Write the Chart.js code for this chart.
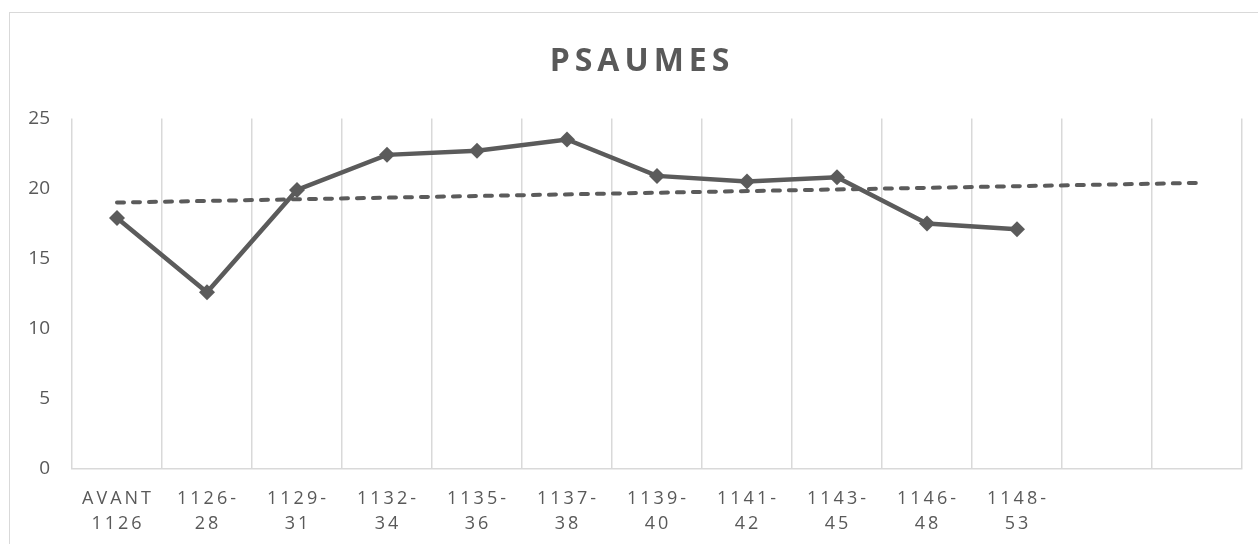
<!DOCTYPE html>
<html>
<head>
<meta charset="utf-8">
<script src="https://cdn.jsdelivr.net/npm/chart.js@4/dist/chart.umd.min.js"></script>
<style>
  html, body { margin: 0; padding: 0; background: #fff; overflow: hidden; }
  #frame { position: absolute; left: 9px; top: 12px; width: 1270px; height: 560px; border: 1px solid #d9d9d9; }
  #wrap { position: absolute; left: 0; top: 0; width: 1258px; height: 544px; }
</style>
</head>
<body>
<div id="frame"></div>
<div id="wrap"><canvas id="chart"></canvas></div>
<script>
// categories (two empty slots at the end, like the original sheet)
const tickLabels = [
  ['AVANT', '1126'], ['1126-', '28'], ['1129-', '31'], ['1132-', '34'],
  ['1135-', '36'], ['1137-', '38'], ['1139-', '40'], ['1141-', '42'],
  ['1143-', '45'], ['1146-', '48'], ['1148-', '53'], [''], ['']
];
const psaumes = [17.9, 12.6, 19.9, 22.4, 22.7, 23.5, 20.9, 20.5, 20.8, 17.5, 17.1];
// linear trend, read at its two ends
const trend = [19.0, null, null, null, null, null, null, null, null, null, null, null, 20.4];

const grey = '#5b5b5b';
const textGrey = '#595959';

// canvas letterSpacing (and a small shift) for title and x labels
function spaced(obj, name, ls, dx) {
  if (!obj || obj['_sp_' + name]) return;
  const orig = obj[name];
  obj[name] = function (...args) {
    const ctx = this.ctx;
    ctx.save();
    ctx.letterSpacing = ls;
    if (dx) ctx.translate(dx, 0);
    orig.apply(this, args);
    ctx.restore();
  };
  obj['_sp_' + name] = true;
}
const spacing = {
  id: 'spacing',
  afterLayout(chart) {
    spaced(chart.titleBlock, 'draw', '5px', 21);
    spaced(chart.scales.x, 'drawLabels', '3px', 1);
  }
};

new Chart(document.getElementById('chart'), {
  type: 'line',
  data: {
    labels: tickLabels,
    datasets: [
      {
        label: 'Psaumes',
        data: psaumes,
        borderColor: grey,
        backgroundColor: grey,
        borderWidth: 4.5,
        pointStyle: 'rectRot',
        pointRadius: 8,
        pointBackgroundColor: grey,
        pointBorderWidth: 0,
        tension: 0
      },
      {
        label: 'Tendance',
        data: trend,
        borderColor: grey,
        borderWidth: 4,
        borderDash: [7, 9],
        borderCapStyle: 'round',
        pointRadius: 0,
        spanGaps: true
      }
    ]
  },
  plugins: [spacing],
  options: {
    responsive: true,
    maintainAspectRatio: false,
    animation: false,
    layout: { padding: { left: 0, right: 16, top: 0, bottom: 0 } },
    plugins: {
      legend: { display: false },
      tooltip: { enabled: false },
      title: {
        display: true,
        text: 'PSAUMES',
        color: textGrey,
        font: { family: 'Open Sans', size: 32, weight: 'bold', lineHeight: 1.2 },
        padding: { top: 43, bottom: 37 }
      }
    },
    scales: {
      x: {
        offset: true,
        grid: { offset: true, color: '#d9d9d9', lineWidth: 1.5, drawTicks: false },
        border: { color: '#d9d9d9', width: 1.5 },
        ticks: {
          autoSkip: false,
          maxRotation: 0,
          padding: 17,
          color: textGrey,
          font: { family: 'Open Sans', size: 18, lineHeight: 1.4 }
        },
        afterFit(scale) { scale.height = 75; }
      },
      y: {
        min: 0,
        max: 25,
        grid: { display: false },
        border: { display: false },
        ticks: {
          stepSize: 5,
          padding: 14,
          color: textGrey,
          font: { family: 'Open Sans', size: 19 }
        },
        afterFit(scale) { scale.width = 72; }
      }
    }
  }
});
</script>
</body>
</html>
